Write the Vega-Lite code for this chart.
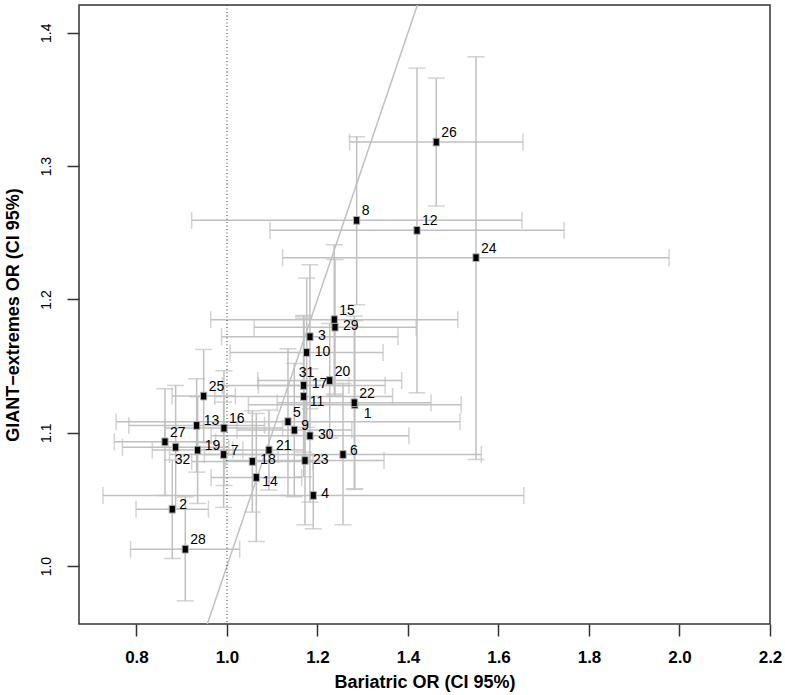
{
  "$schema": "https://vega.github.io/schema/vega-lite/v6.json",
  "width": 691,
  "height": 619,
  "autosize": {"type": "none"},
  "padding": {"left": 79, "top": 5, "right": 15, "bottom": 71},
  "config": {
    "font": "Liberation Sans",
    "view": {"stroke": "#333333", "strokeWidth": 1.5},
    "axis": {"grid": false, "domain": false, "tickColor": "#333333", "tickWidth": 1.5, "tickSize": 12, "labelColor": "black", "titleColor": "black"}
  },
  "datasets": {
    "pts": [
      {"id": 1, "x": 1.2825, "y": 1.121, "xlo": 1.0475, "xhi": 1.5175, "ylo": 1.058, "yhi": 1.184},
      {"id": 2, "x": 0.8791, "y": 1.0427, "xlo": 0.799, "xhi": 0.959, "ylo": 1.0057, "yhi": 1.0797},
      {"id": 3, "x": 1.1834, "y": 1.172, "xlo": 0.988, "xhi": 1.378, "ylo": 1.118, "yhi": 1.226},
      {"id": 4, "x": 1.1907, "y": 1.053, "xlo": 0.726, "xhi": 1.656, "ylo": 1.028, "yhi": 1.078},
      {"id": 5, "x": 1.1348, "y": 1.1083, "xlo": 0.755, "xhi": 1.515, "ylo": 1.053, "yhi": 1.163},
      {"id": 6, "x": 1.2564, "y": 1.0837, "xlo": 0.95, "xhi": 1.562, "ylo": 1.031, "yhi": 1.137},
      {"id": 7, "x": 0.9927, "y": 1.0837, "xlo": 0.873, "xhi": 1.113, "ylo": 1.044, "yhi": 1.123},
      {"id": 8, "x": 1.2866, "y": 1.2593, "xlo": 0.922, "xhi": 1.652, "ylo": 1.196, "yhi": 1.322},
      {"id": 9, "x": 1.1488, "y": 1.102, "xlo": 1.022, "xhi": 1.276, "ylo": 1.052, "yhi": 1.152},
      {"id": 10, "x": 1.1761, "y": 1.1602, "xlo": 1.007, "xhi": 1.345, "ylo": 1.104, "yhi": 1.216},
      {"id": 11, "x": 1.1695, "y": 1.1272, "xlo": 0.973, "xhi": 1.366, "ylo": 1.067, "yhi": 1.187},
      {"id": 12, "x": 1.4199, "y": 1.2518, "xlo": 1.095, "xhi": 1.745, "ylo": 1.13, "yhi": 1.3735},
      {"id": 13, "x": 0.933, "y": 1.1055, "xlo": 0.783, "xhi": 1.083, "ylo": 1.0705, "yhi": 1.1405},
      {"id": 14, "x": 1.0648, "y": 1.0665, "xlo": 0.965, "xhi": 1.165, "ylo": 1.0185, "yhi": 1.1145},
      {"id": 15, "x": 1.2371, "y": 1.1848, "xlo": 0.964, "xhi": 1.51, "ylo": 1.129, "yhi": 1.241},
      {"id": 16, "x": 0.9934, "y": 1.1035, "xlo": 0.863, "xhi": 1.123, "ylo": 1.0605, "yhi": 1.1465},
      {"id": 17, "x": 1.1695, "y": 1.1355, "xlo": 0.9895, "xhi": 1.3495, "ylo": 1.083, "yhi": 1.188},
      {"id": 18, "x": 1.056, "y": 1.0785, "xlo": 0.922, "xhi": 1.19, "ylo": 1.0405, "yhi": 1.1165},
      {"id": 19, "x": 0.9352, "y": 1.087, "xlo": 0.835, "xhi": 1.035, "ylo": 1.047, "yhi": 1.127},
      {"id": 20, "x": 1.227, "y": 1.1392, "xlo": 1.068, "xhi": 1.386, "ylo": 1.096, "yhi": 1.182},
      {"id": 21, "x": 1.0928, "y": 1.087, "xlo": 1.013, "xhi": 1.173, "ylo": 1.057, "yhi": 1.117},
      {"id": 22, "x": 1.2813, "y": 1.1225, "xlo": 1.111, "xhi": 1.451, "ylo": 1.0575, "yhi": 1.1875},
      {"id": 23, "x": 1.1724, "y": 1.0792, "xlo": 0.997, "xhi": 1.347, "ylo": 1.031, "yhi": 1.127},
      {"id": 24, "x": 1.5503, "y": 1.2313, "xlo": 1.123, "xhi": 1.977, "ylo": 1.08, "yhi": 1.382},
      {"id": 25, "x": 0.9485, "y": 1.1275, "xlo": 0.8785, "xhi": 1.0185, "ylo": 1.0925, "yhi": 1.1625},
      {"id": 26, "x": 1.4625, "y": 1.318, "xlo": 1.271, "xhi": 1.654, "ylo": 1.27, "yhi": 1.366},
      {"id": 27, "x": 0.863, "y": 1.0932, "xlo": 0.751, "xhi": 0.975, "ylo": 1.053, "yhi": 1.133},
      {"id": 28, "x": 0.9078, "y": 1.0127, "xlo": 0.787, "xhi": 1.028, "ylo": 0.974, "yhi": 1.052},
      {"id": 29, "x": 1.2387, "y": 1.1792, "xlo": 1.06, "xhi": 1.418, "ylo": 1.128, "yhi": 1.23},
      {"id": 30, "x": 1.1834, "y": 1.0977, "xlo": 0.965, "xhi": 1.402, "ylo": 1.048, "yhi": 1.148},
      {"id": 31, "x": 1.1695, "y": 1.1355, "xlo": 1.0695, "xhi": 1.2695, "ylo": 1.0855, "yhi": 1.1855},
      {"id": 32, "x": 0.8866, "y": 1.0892, "xlo": 0.769, "xhi": 1.004, "ylo": 1.043, "yhi": 1.1355}
    ],
    "diag": [{"v": 0.9}, {"v": 1.5}],
    "ref": [{"v": 1.0}]
  },
  "layer": [
    {
      "data": {"name": "pts"},
      "mark": {"type": "errorbar", "color": "#c0c0c0", "thickness": 1.5, "ticks": {"size": 17, "color": "#c0c0c0"}},
      "encoding": {
        "x": {"field": "xlo", "type": "quantitative", "title": "Bariatric OR (CI 95%)",
          "scale": {"domain": [0.673, 2.2], "nice": false, "zero": false},
          "axis": {"values": [0.8, 1.0, 1.2, 1.4, 1.6, 1.8, 2.0, 2.2], "format": ".1f", "labelFontSize": 17, "labelFontWeight": "bold", "labelPadding": 13, "labelFlush": false, "labelOverlap": false,
            "titleFontSize": 18, "titleFontWeight": "bold", "titleX": 345.5, "titleY": 63, "titleBaseline": "alphabetic", "titleAlign": "center"}},
        "x2": {"field": "xhi"},
        "y": {"field": "y", "type": "quantitative", "title": "GIANT−extremes OR (CI 95%)",
          "scale": {"domain": [0.9566, 1.4208], "nice": false, "zero": false},
          "axis": {"values": [1.0, 1.1, 1.2, 1.3, 1.4], "format": ".1f", "labelFontSize": 14, "labelAngle": -90, "labelAlign": "center", "labelBaseline": "bottom", "labelPadding": 14, "labelFlush": false, "labelOverlap": false,
            "titleFontSize": 18, "titleFontWeight": "bold", "titleAngle": -90, "titleX": -61, "titleY": 309.5, "titleBaseline": "alphabetic", "titleAlign": "center"}}
      }
    },
    {
      "data": {"name": "pts"},
      "mark": {"type": "errorbar", "color": "#c0c0c0", "thickness": 1.5, "ticks": {"size": 17, "color": "#c0c0c0"}},
      "encoding": {
        "x": {"field": "x", "type": "quantitative", "title": "Bariatric OR (CI 95%)"},
        "y": {"field": "ylo", "type": "quantitative", "title": "GIANT−extremes OR (CI 95%)"},
        "y2": {"field": "yhi"}
      }
    },
    {
      "data": {"name": "diag"},
      "mark": {"type": "line", "color": "#c0c0c0", "strokeWidth": 1.5, "clip": true},
      "encoding": {
        "x": {"field": "v", "type": "quantitative", "title": "Bariatric OR (CI 95%)"},
        "y": {"field": "v", "type": "quantitative", "title": "GIANT−extremes OR (CI 95%)"}
      }
    },
    {
      "data": {"name": "ref"},
      "mark": {"type": "rule", "color": "#333333", "strokeWidth": 1, "strokeDash": [1, 2.5]},
      "encoding": {
        "x": {"field": "v", "type": "quantitative", "title": "Bariatric OR (CI 95%)"}
      }
    },
    {
      "data": {"name": "pts"},
      "mark": {"type": "point", "shape": "M-0.8,-1H0.8V1H-0.8Z", "size": 60, "filled": true, "fill": "black", "stroke": "#b0b0b0", "strokeWidth": 1, "opacity": 1},
      "encoding": {
        "x": {"field": "x", "type": "quantitative", "title": "Bariatric OR (CI 95%)"},
        "y": {"field": "y", "type": "quantitative", "title": "GIANT−extremes OR (CI 95%)"}
      }
    },
    {
      "data": {"name": "pts"},
      "transform": [{"filter": "indexof([25,27,5,26,8,12,24,15,20,22,28,16], datum.id) >= 0"}],
      "mark": {"type": "text", "align": "left", "baseline": "middle", "dx": 5, "dy": -9, "fontSize": 14, "color": "black"},
      "encoding": {"x": {"field": "x", "type": "quantitative"}, "y": {"field": "y", "type": "quantitative"}, "text": {"field": "id"}}
    },
    {
      "data": {"name": "pts"},
      "transform": [{"filter": "indexof([13,19,7,21,2,9,6], datum.id) >= 0"}],
      "mark": {"type": "text", "align": "left", "baseline": "middle", "dx": 7, "dy": -4, "fontSize": 14, "color": "black"},
      "encoding": {"x": {"field": "x", "type": "quantitative"}, "y": {"field": "y", "type": "quantitative"}, "text": {"field": "id"}}
    },
    {
      "data": {"name": "pts"},
      "transform": [{"filter": "indexof([23,4,17,3,10,29,18,30], datum.id) >= 0"}],
      "mark": {"type": "text", "align": "left", "baseline": "middle", "dx": 8, "dy": -1, "fontSize": 14, "color": "black"},
      "encoding": {"x": {"field": "x", "type": "quantitative"}, "y": {"field": "y", "type": "quantitative"}, "text": {"field": "id"}}
    },
    {
      "data": {"name": "pts"},
      "transform": [{"filter": "indexof([14,11], datum.id) >= 0"}],
      "mark": {"type": "text", "align": "left", "baseline": "middle", "dx": 6, "dy": 5, "fontSize": 14, "color": "black"},
      "encoding": {"x": {"field": "x", "type": "quantitative"}, "y": {"field": "y", "type": "quantitative"}, "text": {"field": "id"}}
    },
    {
      "data": {"name": "pts"},
      "transform": [{"filter": "datum.id == 1"}],
      "mark": {"type": "text", "align": "left", "baseline": "middle", "dx": 9, "dy": 9, "fontSize": 14, "color": "black"},
      "encoding": {"x": {"field": "x", "type": "quantitative"}, "y": {"field": "y", "type": "quantitative"}, "text": {"field": "id"}}
    },
    {
      "data": {"name": "pts"},
      "transform": [{"filter": "datum.id == 32"}],
      "mark": {"type": "text", "align": "left", "baseline": "middle", "dx": -1, "dy": 13, "fontSize": 14, "color": "black"},
      "encoding": {"x": {"field": "x", "type": "quantitative"}, "y": {"field": "y", "type": "quantitative"}, "text": {"field": "id"}}
    },
    {
      "data": {"name": "pts"},
      "transform": [{"filter": "datum.id == 31"}],
      "mark": {"type": "text", "align": "left", "baseline": "middle", "dx": -5, "dy": -12, "fontSize": 14, "color": "black"},
      "encoding": {"x": {"field": "x", "type": "quantitative"}, "y": {"field": "y", "type": "quantitative"}, "text": {"field": "id"}}
    }
  ]
}
